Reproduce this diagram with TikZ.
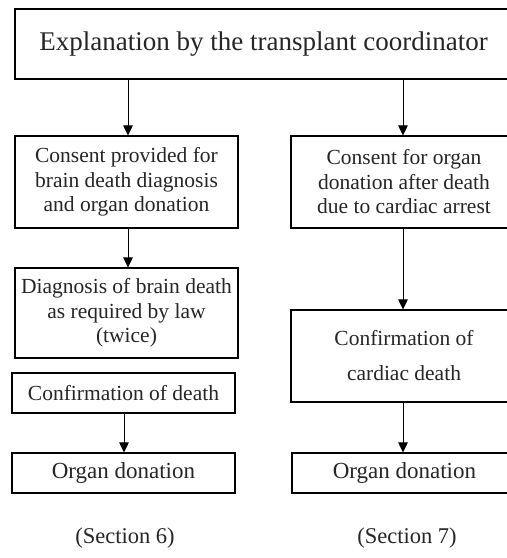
\documentclass[tikz,border=0pt]{standalone}
\usepackage{fontspec}
\setmainfont{Liberation Serif}
\usetikzlibrary{arrows.meta}
\tikzset{
  box/.style={draw=black, line width=1.1pt, inner sep=0pt, align=center, text=black!85,
    font=\fontsize{21.5}{24.5}\selectfont},
  conn/.style={line width=0.9pt, -{Triangle[length=10pt,width=9.5pt]}},
  lbl/.style={inner sep=0pt, text=black!85, font=\fontsize{22.5}{26}\selectfont}
}
\begin{document}
\begin{tikzpicture}[x=1pt,y=-1pt]
\useasboundingbox (0,0) rectangle (507,558);
\fill[white] (0,0) rectangle (507,558);
\clip (0,0) rectangle (507,558);
\node[box, minimum width=497pt, minimum height=70pt, font=\fontsize{27}{32}\selectfont] (top) at (263.5,44) {Explanation by the transplant coordinator};
\node[box, minimum width=223pt, minimum height=92pt] (l1) at (126.5,182) {Consent provided for\\brain death diagnosis\\and organ donation};
\node[box, minimum width=226pt, minimum height=92pt] (r1) at (404,182) {Consent for organ\\donation after death\\due to cardiac arrest};
\node[box, minimum width=223pt, minimum height=90pt] (l2) at (126.5,313) {Diagnosis of brain death\\as required by law\\(twice)};
\node[box, minimum width=226pt, minimum height=92pt, font=\fontsize{21.5}{35}\selectfont] (r2) at (404,356) {Confirmation of\\cardiac death};
\node[box, minimum width=223pt, minimum height=40pt] (l3) at (123.5,393) {Confirmation of death};
\node[box, minimum width=223pt, minimum height=40pt, font=\fontsize{23}{26}\selectfont] (l4) at (123.5,473) {Organ donation};
\node[box, minimum width=225pt, minimum height=40pt, font=\fontsize{23}{26}\selectfont] (r4) at (404.5,473) {Organ donation};
\node[lbl] (s6) at (125,538) {(Section 6)};
\node[lbl] (s7) at (407,538) {(Section 7)};
\coordinate (la) at (128,0);
\coordinate (ra) at (403,0);
\coordinate (lb) at (124,0);
\draw[conn] (la |- top.south) -- (la |- l1.north);
\draw[conn] (ra |- top.south) -- (ra |- r1.north);
\draw[conn] (la |- l1.south) -- (la |- l2.north);
\draw[conn] (ra |- r1.south) -- (ra |- r2.north);
\draw[conn] (lb |- l3.south) -- (lb |- l4.north);
\draw[conn] (ra |- r2.south) -- (ra |- r4.north);
\end{tikzpicture}
\end{document}
